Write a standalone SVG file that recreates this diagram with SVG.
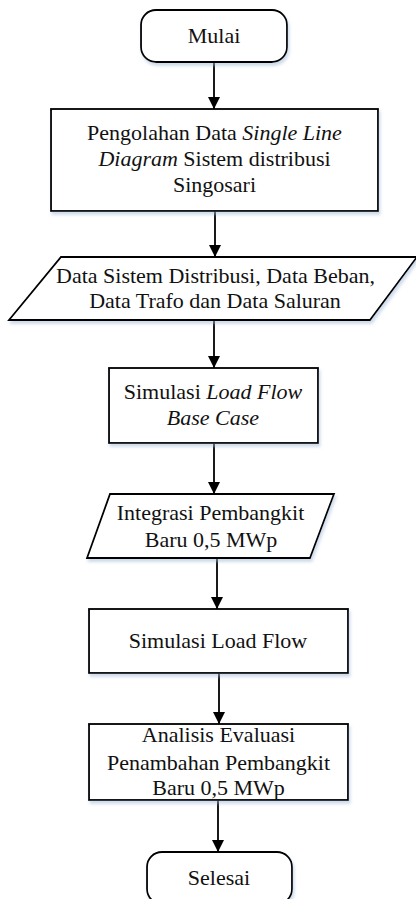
<svg xmlns="http://www.w3.org/2000/svg" width="416" height="899" viewBox="0 0 416 899">
<style>
.shape{fill:#fff;stroke:#000;stroke-width:1.8;filter:url(#sh)}
.t{font-family:"Liberation Serif","Times New Roman",serif;font-size:22px;fill:#111;text-anchor:middle}
.i{font-style:italic}
.c{stroke:#000;stroke-width:1.8;fill:none;marker-end:url(#ah)}
</style>
<defs>
<filter id="sh" x="-10%" y="-10%" width="125%" height="130%">
<feDropShadow dx="1.5" dy="3" stdDeviation="1.5" flood-color="#9fb8d6" flood-opacity="0.5"/>
</filter>
<marker id="ah" markerWidth="12" markerHeight="12" refX="12" refY="6" orient="auto" markerUnits="userSpaceOnUse">
<path d="M0,0 L12,6 L0,12 Z" fill="#000"/>
</marker>
</defs>
<g id="connectors">
<line class="c" x1="214" y1="62" x2="214" y2="109"/>
<line class="c" x1="215" y1="211" x2="215" y2="257"/>
<line class="c" x1="214" y1="320" x2="214" y2="368"/>
<line class="c" x1="214" y1="443" x2="214" y2="494"/>
<line class="c" x1="217" y1="558" x2="217" y2="609"/>
<line class="c" x1="219" y1="673" x2="219" y2="724"/>
<line class="c" x1="218" y1="800" x2="218" y2="852"/>
</g>
<g id="start">
<rect class="shape" x="141" y="10" width="146" height="52" rx="15"/>
<text class="t" x="214" y="43">Mulai</text>
</g>
<g id="process1">
<rect class="shape" x="51" y="109" width="327" height="102"/>
<text class="t" x="214.5" y="140">Pengolahan Data <tspan class="i">Single Line</tspan></text>
<text class="t" x="214.5" y="166"><tspan class="i">Diagram</tspan> Sistem distribusi</text>
<text class="t" x="214.5" y="192">Singosari</text>
</g>
<g id="data1">
<polygon class="shape" points="61,257 417,257 370,320 9,320"/>
<text class="t" x="215.5" y="283">Data Sistem Distribusi, Data Beban,</text>
<text class="t" x="215" y="308">Data Trafo dan Data Saluran</text>
</g>
<g id="process2">
<rect class="shape" x="109" y="368" width="209" height="75"/>
<text class="t" x="213" y="399">Simulasi <tspan class="i">Load Flow</tspan></text>
<text class="t i" x="213" y="425">Base Case</text>
</g>
<g id="data2">
<polygon class="shape" points="110,494 334,494 310,558 87,558"/>
<text class="t" x="210.5" y="520">Integrasi Pembangkit</text>
<text class="t" x="211" y="547">Baru 0,5 MWp</text>
</g>
<g id="process3">
<rect class="shape" x="89" y="609" width="259" height="64"/>
<text class="t" x="218" y="648">Simulasi Load Flow</text>
</g>
<g id="process4">
<rect class="shape" x="89" y="724" width="259" height="76"/>
<text class="t" x="218.5" y="742">Analisis Evaluasi</text>
<text class="t" x="218.5" y="770">Penambahan Pembangkit</text>
<text class="t" x="218.5" y="795">Baru 0,5 MWp</text>
</g>
<g id="end">
<rect class="shape" x="147" y="852" width="145" height="52" rx="15"/>
<text class="t" x="219" y="885">Selesai</text>
</g>
</svg>
